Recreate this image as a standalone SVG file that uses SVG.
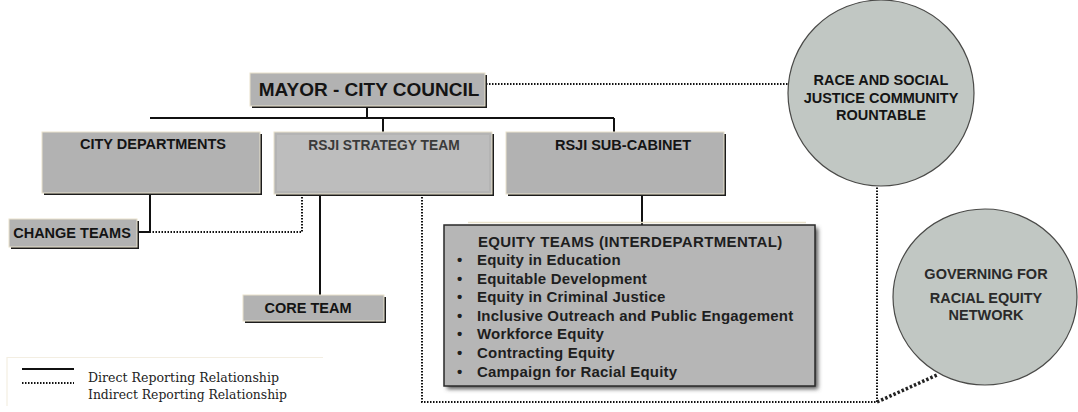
<svg xmlns="http://www.w3.org/2000/svg" width="1078" height="412" viewBox="0 0 1078 412">
<defs>
<style>
.shadow{fill:#1c1c1c}
.box{fill:#b2b2b2;stroke:#e9e2cc;stroke-width:1}
.lbl{font-family:"Liberation Sans",Arial,sans-serif;font-weight:bold;fill:#141414;text-anchor:middle;font-size:14.5px}
.solid{stroke:#111;stroke-width:2;fill:none}
.dot{stroke:#111;stroke-width:2;stroke-dasharray:1.5 1.5;fill:none}
.circ{fill:#c1c7c3;stroke:#4a4a48;stroke-width:1.2}
.item{font-family:"Liberation Sans",Arial,sans-serif;font-weight:bold;font-size:15px;letter-spacing:0.2px;fill:#1e1e1e}
.leg{font-family:"DejaVu Serif","Liberation Serif",serif;font-size:12px;fill:#222}
</style>
<filter id="blur" x="-10%" y="-10%" width="130%" height="130%"><feGaussianBlur stdDeviation="2"/></filter>
</defs>
<rect width="1078" height="412" fill="#ffffff"/>

<g id="connectors">
<path class="solid" d="M367 106V118M150 118H614M383 118V132M614 118V132M150 193V232H137M320 194V295M642 194V225"/>
<path class="dot" d="M486 84H788M302 194V232H152M422 194V402H877V186"/>
<path d="M877 402L937 375" stroke="#222" stroke-width="3.5" stroke-dasharray="2.5 2" fill="none"/>
</g>

<g id="mayor">
<rect class="shadow" x="252" y="75" width="235" height="33"/>
<rect class="box" x="250" y="73" width="235" height="33"/>
<text class="lbl" x="369" y="96" style="font-size:19px">MAYOR - CITY COUNCIL</text>
</g>

<g id="city-departments">
<rect class="shadow" x="44" y="134" width="218" height="61"/>
<rect class="box" x="42" y="132" width="218" height="61"/>
<text class="lbl" x="153" y="149">CITY DEPARTMENTS</text>
</g>

<g id="rsji-strategy-team">
<rect class="shadow" x="276" y="134" width="218" height="62"/>
<rect class="box" x="274" y="132" width="218" height="62" style="fill:#b4b4b4"/>
<rect x="277" y="135" width="212" height="56" fill="#bdbdbd"/>
<text class="lbl" x="384" y="150" style="fill:#3a3a3a;font-size:13.8px">RSJI STRATEGY TEAM</text>
</g>

<g id="rsji-sub-cabinet">
<rect class="shadow" x="508" y="134" width="218" height="62"/>
<rect class="box" x="506" y="132" width="218" height="62"/>
<text class="lbl" x="623" y="150">RSJI SUB-CABINET</text>
</g>

<g id="change-teams">
<rect class="shadow" x="11" y="221" width="128" height="28"/>
<rect class="box" x="9" y="219" width="128" height="28"/>
<text class="lbl" x="72" y="238">CHANGE TEAMS</text>
</g>

<g id="core-team">
<rect class="shadow" x="245" y="297" width="141" height="26"/>
<rect class="box" x="243" y="295" width="141" height="26"/>
<text class="lbl" x="308" y="313">CORE TEAM</text>
</g>

<g id="equity-teams">
<line x1="468" y1="222.5" x2="806" y2="222.5" stroke="#e9e2cc" stroke-width="1.5"/>
<rect x="447" y="228" width="371" height="161" fill="#555" filter="url(#blur)"/>
<rect x="444" y="225" width="371" height="161" fill="#b6b6b6" stroke="#2a2a2a" stroke-width="1.5"/>
<text class="item" x="478" y="247" style="letter-spacing:0.35px">EQUITY TEAMS (INTERDEPARTMENTAL)</text>
<g class="item">
<text x="457" y="265">•</text><text x="477" y="265">Equity in Education</text>
<text x="457" y="284">•</text><text x="477" y="284">Equitable Development</text>
<text x="457" y="302">•</text><text x="477" y="302">Equity in Criminal Justice</text>
<text x="457" y="321">•</text><text x="477" y="321">Inclusive Outreach and Public Engagement</text>
<text x="457" y="339">•</text><text x="477" y="339">Workforce Equity</text>
<text x="457" y="358">•</text><text x="477" y="358">Contracting Equity</text>
<text x="457" y="377">•</text><text x="477" y="377">Campaign for Racial Equity</text>
</g>
</g>

<g id="roundtable">
<circle class="circ" cx="881" cy="93" r="93"/>
<text class="lbl" x="881" y="85">RACE AND SOCIAL</text>
<text class="lbl" x="881" y="103">JUSTICE COMMUNITY</text>
<text class="lbl" x="881" y="120">ROUNTABLE</text>
</g>

<g id="governing-network">
<ellipse class="circ" cx="985" cy="297" rx="92" ry="88"/>
<text class="lbl" x="986" y="279" style="fill:#2a2a2a">GOVERNING FOR</text>
<text class="lbl" x="986" y="303" style="fill:#2a2a2a">RACIAL  EQUITY</text>
<text class="lbl" x="986" y="320" style="fill:#2a2a2a">NETWORK</text>
</g>

<g id="legend">
<path d="M7 406V357.5H323" stroke="#f3eee2" stroke-width="1.2" fill="none"/>
<line x1="22" y1="369" x2="74" y2="369" stroke="#111" stroke-width="2"/>
<line x1="22" y1="383" x2="74" y2="383" stroke="#111" stroke-width="2" stroke-dasharray="1.5 1.5"/>
<text class="leg" x="88" y="382" textLength="191" lengthAdjust="spacingAndGlyphs">Direct Reporting Relationship</text>
<text class="leg" x="88" y="399" textLength="199" lengthAdjust="spacingAndGlyphs">Indirect Reporting Relationship</text>
</g>
</svg>
